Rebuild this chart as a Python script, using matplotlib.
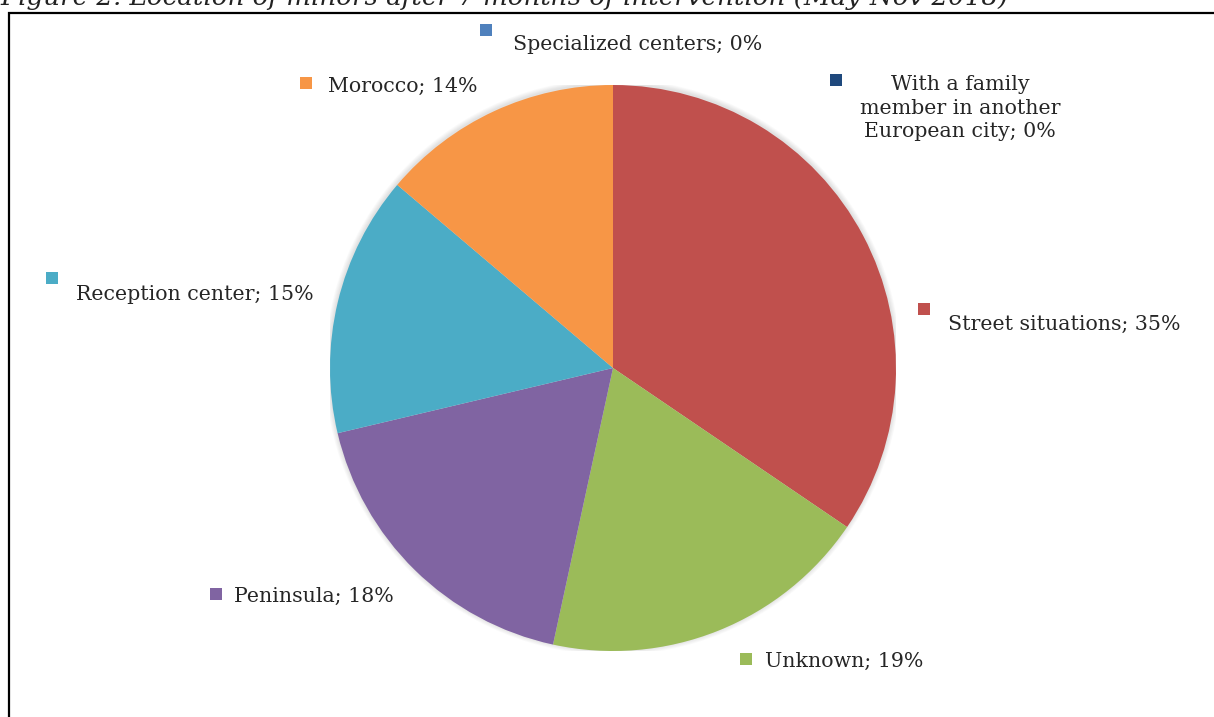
import numpy as np
import matplotlib.pyplot as plt
from matplotlib.patches import Rectangle, Circle

W, H = 1214, 717

# data (order: clockwise from 12 o'clock)
names = ["Street situations", "Unknown", "Peninsula", "Reception center",
         "Morocco", "Specialized centers", "With a family\nmember in another\nEuropean city"]
shares = [34.5, 18.9, 17.9, 14.9, 13.8, 0.0, 0.0]
shown = ["35%", "19%", "18%", "15%", "14%", "0%", "0%"]
colors = ["#C0504D", "#9BBB59", "#8064A2", "#4BACC6", "#F79646", "#4F81BD", "#1F497D"]

fig = plt.figure(figsize=(W / 100, H / 100), dpi=100)
fig.patch.set_facecolor("white")

# title, cut off at the top of the image (as in the source)
fig.text(0.0 / W, 1 - 4.5 / H, "Figure 2. Location of minors after 7 months of intervention (May-Nov 2018)",
         family="DejaVu Serif", style="italic", fontsize=18.8, ha="left", va="baseline", color="#222222")

# frame
fig.patches.append(Rectangle((8.5 / W, -0.1), 1.2, 1 - 12.5 / H + 0.1, transform=fig.transFigure,
                             fill=False, edgecolor="black", linewidth=1.6))

cx, cy, r = 613, 368, 283
ax = fig.add_axes([(cx - r) / W, (H - cy - r) / H, 2 * r / W, 2 * r / H])
# soft shadow
for k in range(6):
    ax.add_patch(Circle((0, 0.004), 1.0 + 0.003 * (k + 1), color="black", alpha=0.018, lw=0, zorder=0))
ax.pie([s for s in shares if s > 0], colors=colors[:5], startangle=90, counterclock=False,
       radius=1.0, wedgeprops=dict(linewidth=0, zorder=2))
ax.set_xlim(-1, 1)
ax.set_ylim(-1, 1)
ax.set_aspect("auto")
ax.axis("off")

# label positions: (square left x, square top y, text x, text centre y) in pixels
spots = [(918, 303, 948, 324), (740, 653, 765, 661), (210, 588, 234, 596), (46, 272, 76, 295),
         (300, 77, 328, 86), (480, 24, 513, 45), (830, 74, 960, 108)]
sq = 12
for i, (name, pct) in enumerate(zip(names, shown)):
    x0, y0, tx, ty = spots[i]
    fig.patches.append(Rectangle((x0 / W, 1 - (y0 + sq) / H), sq / W, sq / H, transform=fig.transFigure,
                                 facecolor=colors[i], edgecolor="none"))
    multi = "\n" in name
    fig.text(tx / W, 1 - ty / H, name + "; " + pct, family="DejaVu Serif", fontsize=14.8,
             ha="center" if multi else "left", va="center", color="#262626",
             linespacing=1.3, multialignment="center")

fig.savefig("out.png", dpi=100)
